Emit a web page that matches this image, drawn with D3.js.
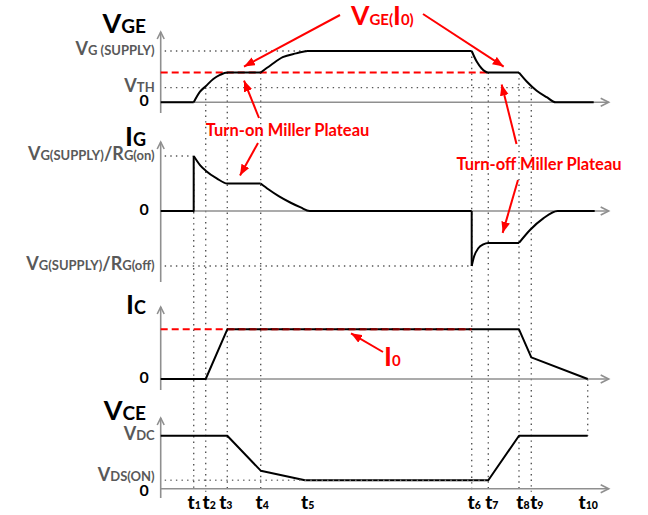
<!DOCTYPE html>
<html>
<head>
<meta charset="utf-8">
<script src="https://cdn.jsdelivr.net/npm/d3@7"></script>
<style>
  html, body { margin: 0; padding: 0; background: #fff; }
  svg { display: block; }
</style>
</head>
<body>
<svg id="chart" width="648" height="515"></svg>
<script>
// ---- switching instants t1..t10 (time units) ----
const tickNames = ["1", "2", "3", "4", "5", "6", "7", "8", "9", "10"];
const tickTimes = [33, 45, 66.6, 100, 145.5, 311, 327.6, 358.3, 370.6, 427];

// ---- gate-emitter voltage (V) ----
const VG_SUPPLY = 15, VGE_I0 = 8.7, VTH = 4.3;
const vgePieces = [
  [[0, 0], [33, 0]],
  [[33, 0], [39.3, 3.1], [45, 4.7], [52.6, 6.8], [59.3, 8.0], [66.6, 8.7], [100, 8.7]],
  [[100, 8.7], [110.3, 10.9], [122, 13.2], [135.5, 14.3], [147, 15], [311, 15]],
  [[311, 15], [316, 11.9], [321, 9.9], [327.6, 8.7], [358.3, 8.7]],
  [[358.3, 8.7], [366, 6.1], [376, 3.4], [386, 1.5], [395, 0], [433, 0]]
];

// ---- gate current (normalised to VG(SUPPLY)/RG) ----
const IG_ON = 1, IG_OFF = -1;
const igPieces = [
  [[0, 0], [33, 0], [33, 1]],
  [[33, 1], [39.3, 0.836], [45, 0.733], [56, 0.594], [66.6, 0.5], [100, 0.5]],
  [[100, 0.5], [108, 0.39], [118, 0.27], [130, 0.15], [140, 0.065], [149, 0], [311, 0]],
  [[311, 0], [311, -1]],
  [[311, -1], [313.3, -0.831], [317.6, -0.678], [322.6, -0.606], [327.6, -0.58], [358.3, -0.58]],
  [[358.3, -0.58], [369.3, -0.345], [382.6, -0.133], [397, 0], [434, 0]]
];

// ---- collector current (A) ----
const I0 = 50;
const icPoints = [[0, 0], [45, 0], [66.6, 50], [358.3, 50], [370.6, 21.8], [427, 0]];

// ---- collector-emitter voltage (% of VDC) ----
const VDC = 100, VDS_ON = 16;
const vcePoints = [[0, 100], [66.6, 100], [100, 34], [144.3, 16], [327.6, 16], [358.3, 100], [427, 100]];

// ---------------------------------------------------------------
const svg = d3.select("#chart");
const FONT = "Lato, 'Open Sans', 'DejaVu Sans', sans-serif";
const LABEL = "#595959", AXIS = "#8f8f8f", DOT = "#555", RED = "#ff0000";

const x = d3.scaleLinear().domain([0, 448]).range([160.7, 608.7]);
const yVge = d3.scaleLinear().domain([0, VG_SUPPLY]).range([102.3, 51]);
const yIg = d3.scaleLinear().domain([IG_OFF, IG_ON]).range([266, 156]);
const yIc = d3.scaleLinear().domain([0, I0]).range([379, 329.3]);
const yVce = d3.scaleLinear().domain([0, VDC]).range([488.7, 435.7]);

const X0 = x(0), XEND = x(448);
const T = i => x(tickTimes[i - 1]);

svg.append("defs").append("marker")
  .attr("id", "redArrow")
  .attr("viewBox", "0 0 10 8")
  .attr("refX", 10).attr("refY", 4)
  .attr("markerUnits", "userSpaceOnUse")
  .attr("markerWidth", 11).attr("markerHeight", 9)
  .attr("orient", "auto")
  .append("path").attr("d", "M0,0 L10,4 L0,8 Z").attr("fill", RED);

// rich text: big letter + smaller "subscript" letters on one baseline
function rich(sel, parts) {
  sel.text(null);
  parts.forEach(([s, size]) => sel.append("tspan").attr("font-size", size).text(s));
}

// ---- dotted guide lines ----
const guides = svg.append("g").attr("stroke", DOT).attr("stroke-width", 1.4)
  .attr("stroke-dasharray", "1.4,4.2").attr("fill", "none");
const hLine = (g, y, x1, x2) => g.append("line").attr("x1", x1).attr("x2", x2).attr("y1", y).attr("y2", y);
const vLine = (g, xx, y1, y2) => g.append("line").attr("x1", xx).attr("x2", xx).attr("y1", y1).attr("y2", y2);

hLine(guides, yVge(VG_SUPPLY), X0 + 4, T(6));
hLine(guides, yVge(VTH), X0 + 4, T(9));
hLine(guides, yIg(IG_ON), X0 + 4, T(1));
hLine(guides, yIg(IG_OFF), X0 + 4, T(6));

const bottomEnd = yVce(0) + 3;
vLine(guides, T(1), yIg(IG_ON), bottomEnd);
vLine(guides, T(2), yVge(VTH), bottomEnd);
vLine(guides, T(3), yVge(VGE_I0), bottomEnd);
vLine(guides, T(4), yVge(VGE_I0), bottomEnd);
vLine(guides, T(6), yVge(VG_SUPPLY), bottomEnd);
vLine(guides, T(7), yVge(VGE_I0), bottomEnd);
vLine(guides, T(8), yVge(VGE_I0), bottomEnd);
vLine(guides, T(9), yVge(VTH), bottomEnd);
vLine(guides, T(10), yIc(0), yVce(VDC));

// ---- axes with open arrow heads ----
const panels = [
  { y: yVge, top: 32, bottom: 113 },
  { y: yIg, top: 142, bottom: 282 },
  { y: yIc, top: 307, bottom: 390 },
  { y: yVce, top: 418, bottom: 498 }
];
const axes = svg.append("g").attr("stroke", AXIS).attr("stroke-width", 1.6).attr("fill", "none");
panels.forEach(p => {
  const y0 = p.y(0);
  axes.append("line").attr("x1", X0).attr("x2", X0).attr("y1", p.top).attr("y2", p.bottom);
  axes.append("path").attr("d", `M${X0 - 3.5},${p.top + 7}L${X0},${p.top}L${X0 + 3.5},${p.top + 7}`);
  axes.append("line").attr("x1", X0).attr("x2", XEND).attr("y1", y0).attr("y2", y0);
  axes.append("path").attr("d", `M${XEND - 8},${y0 - 4}L${XEND},${y0}L${XEND - 8},${y0 + 4}`);
});

// ---- red reference levels ----
svg.append("line").attr("x1", X0).attr("x2", T(7))
  .attr("y1", yVge(VGE_I0)).attr("y2", yVge(VGE_I0))
  .attr("stroke", RED).attr("stroke-width", 2).attr("stroke-dasharray", "7,4");
svg.append("line").attr("x1", X0).attr("x2", T(6))
  .attr("y1", yIc(I0)).attr("y2", yIc(I0))
  .attr("stroke", RED).attr("stroke-width", 2).attr("stroke-dasharray", "7,4");

// ---- waveforms ----
const isSmooth = p => p.length > 2 && p.every((d, i) => i === 0 || d[0] !== p[i - 1][0]);
function drawPieces(pieces, y, smooth) {
  pieces.forEach(p => {
    const gen = d3.line().x(d => x(d[0])).y(d => y(d[1]))
      .curve(smooth && isSmooth(p) ? d3.curveMonotoneX : d3.curveLinear);
    svg.append("path").attr("d", gen(p)).attr("fill", "none")
      .attr("stroke", "#000").attr("stroke-width", 2).attr("stroke-linejoin", "round");
  });
}
drawPieces(vgePieces, yVge, true);
drawPieces(igPieces, yIg, true);
drawPieces([icPoints], yIc, false);
drawPieces([vcePoints], yVce, false);

// levels that run over the waveform
svg.append("line").attr("x1", T(3)).attr("x2", T(6))
  .attr("y1", yIc(I0)).attr("y2", yIc(I0))
  .attr("stroke", RED).attr("stroke-opacity", 0.45).attr("stroke-width", 2)
  .attr("stroke-dasharray", "7,4").attr("stroke-dashoffset", -((T(3) - X0) % 11));
hLine(svg.append("g").attr("stroke", "#777").attr("stroke-width", 1.4)
  .attr("stroke-dasharray", "1.4,4.2"), yVce(VDS_ON), X0 + 4, T(7));

// ---- axis labels (d3 axes, rich tick text) ----
const BIG = 18, SMALL = 13;
function leftAxis(y, ticks, specs) {
  const g = svg.append("g").attr("transform", `translate(${X0},0)`)
    .call(d3.axisLeft(y).tickValues(ticks).tickSize(0).tickPadding(6));
  g.select(".domain").remove();
  g.selectAll(".tick text").each(function (d, i) {
    const s = specs[i];
    const t = d3.select(this).attr("font-family", FONT).attr("font-weight", "bold")
      .attr("fill", s.color || LABEL).attr("dy", "0.36em").attr("x", -6 - (s.dx || 0));
    if (s.shift) t.attr("y", s.shift);
    rich(t, s.parts);
  });
}
const zero = { parts: [["0", 16]], color: "#000", dx: 6 };
leftAxis(yVge, [0, VTH, VG_SUPPLY], [
  zero,
  { parts: [["V", BIG], ["TH", SMALL]] },
  { parts: [["V", BIG], ["G (SUPPLY)", SMALL]] }
]);
leftAxis(yIg, [IG_OFF, 0, IG_ON], [
  { parts: [["V", BIG], ["G(SUPPLY)", SMALL], ["/R", BIG], ["G(off)", SMALL]] },
  zero,
  { parts: [["V", BIG], ["G(SUPPLY)", SMALL], ["/R", BIG], ["G(on)", SMALL]] }
]);
leftAxis(yIc, [0], [zero]);
leftAxis(yVce, [0, VDS_ON, VDC], [
  { parts: [["0", 16]], color: "#000", dx: 6, shift: 3 },
  { parts: [["V", BIG], ["DS(ON)", SMALL]], shift: -3 },
  { parts: [["V", BIG], ["DC", SMALL]] }
]);

// time marks along the bottom
const tickNudge = [0, 3, -2, 1, 1, 2, 3, 3.5, 5, 0];
const bx = svg.append("g").attr("transform", `translate(0,${yVce(0)})`)
  .call(d3.axisBottom(x).tickValues(tickTimes).tickSize(0).tickPadding(0));
bx.select(".domain").remove();
bx.selectAll(".tick text").each(function (d, i) {
  const t = d3.select(this).attr("font-family", FONT).attr("font-weight", "900")
    .attr("fill", "#000").attr("dy", null).attr("y", 20).attr("x", tickNudge[i]);
  rich(t, [["t", 19], [tickNames[i], 10.5]]);
});

// ---- panel titles ----
const titles = [
  { y: 33, parts: [["V", 27], ["GE", 19]] },
  { y: 146, parts: [["I", 27], ["G", 18]] },
  { y: 314, parts: [["I", 27], ["C", 18]] },
  { y: 420, parts: [["V", 27], ["CE", 19]] }
];
titles.forEach(tt => {
  const t = svg.append("text").attr("x", 146).attr("y", tt.y).attr("text-anchor", "end")
    .attr("font-family", FONT).attr("font-weight", "bold").attr("fill", "#000");
  rich(t, tt.parts);
});

// ---- annotations ----
const note = svg.append("g").attr("font-family", FONT).attr("font-weight", "bold").attr("fill", RED);
rich(note.append("text").attr("x", 351).attr("y", 25), [["V", 26.5], ["GE(", 15], ["I", 26.5], ["0)", 15]]);
note.append("text").attr("x", 287.5).attr("y", 136).attr("text-anchor", "middle")
  .attr("font-size", 16.5).text("Turn-on Miller Plateau");
note.append("text").attr("x", 539).attr("y", 170).attr("text-anchor", "middle")
  .attr("font-size", 16.5).text("Turn-off Miller Plateau");
rich(note.append("text").attr("x", 384).attr("y", 366), [["I", 27], ["0", 15]]);

const midOn = (T(3) + T(4)) / 2, midOff = (T(7) + T(8)) / 2;
const arrows = [
  [340, 15, midOn, yVge(VGE_I0) - 6],
  [423, 14, midOff, yVge(VGE_I0) - 6],
  [259, 118, midOn, yVge(VGE_I0) + 8],
  [258, 143, midOn - 4, yIg(0.5) - 8],
  [516.5, 144, midOff - 2, yVge(VGE_I0) + 12],
  [518, 180, midOff - 1, yIg(-0.58) - 10],
  [383, 352, 351, yIc(I0) + 4]
];
arrows.forEach(([x1, y1, x2, y2]) => {
  svg.append("line").attr("x1", x1).attr("y1", y1).attr("x2", x2).attr("y2", y2)
    .attr("stroke", RED).attr("stroke-width", 2).attr("marker-end", "url(#redArrow)");
});
</script>
</body>
</html>
